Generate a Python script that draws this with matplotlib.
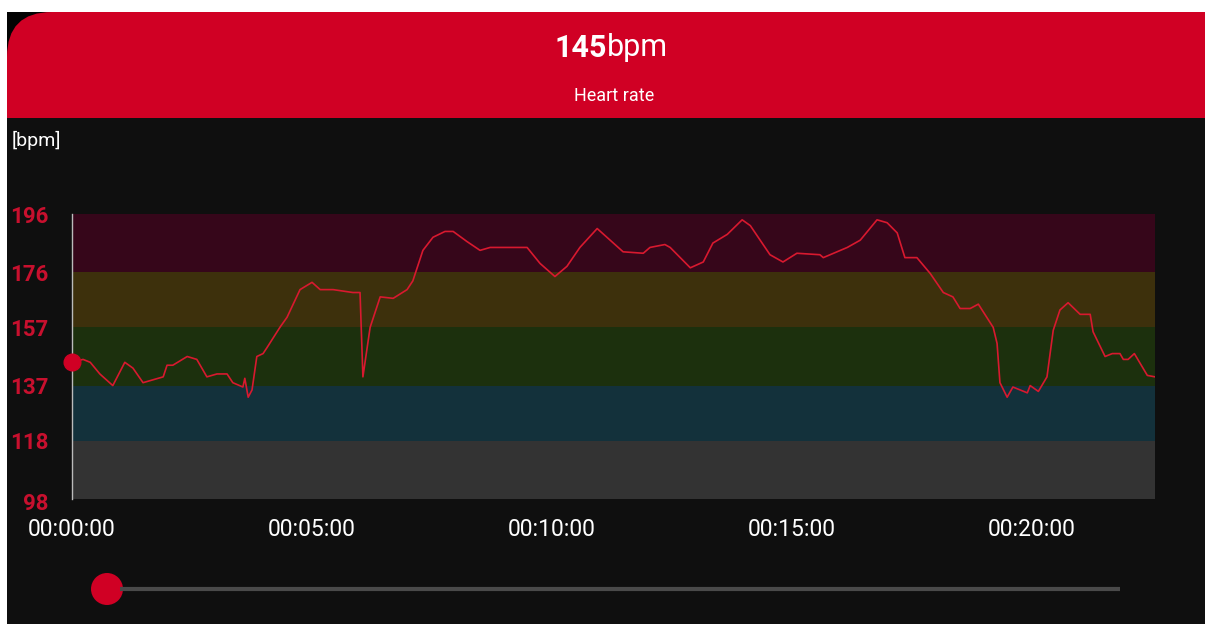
import matplotlib
matplotlib.use("Agg")
import matplotlib.pyplot as plt
from matplotlib.patches import FancyBboxPatch, Rectangle, Circle
from matplotlib.transforms import ScaledTranslation

# heart rate trace (minutes from start, bpm)
minutes = [0.0, 0.23, 0.38, 0.58, 0.85, 1.10, 1.27, 1.48, 1.69, 1.90, 1.98, 2.10,
           2.40, 2.60, 2.81, 3.02, 3.23, 3.35, 3.56, 3.60, 3.67, 3.75, 3.85, 3.98,
           4.06, 4.33, 4.48, 4.75, 5.00, 5.17, 5.44, 5.85, 6.00, 6.06, 6.21, 6.42,
           6.69, 6.98, 7.10, 7.31, 7.52, 7.77, 7.94, 8.23, 8.50, 8.71, 9.48, 9.75,
           10.06, 10.31, 10.58, 10.94, 11.21, 11.48, 11.90, 12.04, 12.35, 12.46,
           12.88, 13.15, 13.35, 13.65, 13.96, 14.13, 14.54, 14.81, 15.10, 15.58,
           15.65, 16.15, 16.42, 16.77, 16.98, 17.19, 17.35, 17.60, 17.88, 18.15,
           18.35, 18.50, 18.71, 18.88, 19.19, 19.27, 19.33, 19.48, 19.60, 19.90,
           19.96, 20.13, 20.31, 20.44, 20.58, 20.75, 21.00, 21.21, 21.27, 21.52,
           21.67, 21.83, 21.90, 22.00, 22.13, 22.40, 22.56]
bpm = [145, 146, 145, 141, 137, 145, 143, 138, 139, 140, 144, 144,
       147, 146, 140, 141, 141, 138, 136.5, 139.5, 133, 135.5, 147, 148,
       150, 157, 160.5, 170, 172.5, 170, 170, 169, 169, 140, 157, 167.5,
       167, 170, 173, 183.5, 188, 190, 190, 186.5, 183.5, 184.5, 184.5, 179,
       174.5, 178, 184.5, 191, 187, 183, 182.5, 184.5, 185.5, 184.5,
       177.5, 179.5, 186, 189, 194, 192, 182, 179.5, 182.5, 182,
       181, 184.5, 187, 194, 193, 189.5, 181, 181, 175.5, 169,
       167.5, 163.5, 163.5, 165, 157, 151.5, 138, 133, 136.5, 134.5,
       137, 135, 140, 156, 163, 165.5, 161.5, 161.5, 155.5, 147,
       148, 148, 146, 146, 148, 140.5, 140]

zone_edges = [98, 118, 137, 157, 176, 196]
zone_colors = ["#333333", "#13313b", "#1c300d", "#3d300c", "#36061a"]
time_ticks = [0, 5, 10, 15, 20]
time_labels = ["00:00:00", "00:05:00", "00:10:00", "00:15:00", "00:20:00"]
current_bpm = 145

W, H = 1205, 624
fig = plt.figure(figsize=(W / 100, H / 100), dpi=100, facecolor="white")

# background layer in pixel coordinates
bg = fig.add_axes([0, 0, 1, 1])
bg.set_xlim(0, W)
bg.set_ylim(H, 0)
bg.axis("off")
bg.add_patch(FancyBboxPatch((7, 12), W + 60, H + 60, boxstyle="round,pad=0,rounding_size=40",
                            fc="#0f0f0f", ec="none"))
bg.add_patch(Rectangle((7, 12), 60, 60, fc="#030303", ec="none"))
# red header, only the top-left corner shows rounded
bg.add_patch(FancyBboxPatch((7, 12), W + 60, 150, boxstyle="round,pad=0,rounding_size=45",
                            fc="#d00024", ec="none"))
bg.add_patch(Rectangle((7, 118), W, 100, fc="#0f0f0f", ec="none"))

bg.text(607, 48, str(current_bpm), ha="right", va="center", fontsize=22,
        fontweight="bold", color="white", family="Roboto")
bg.text(607, 48, "bpm", ha="left", va="center", fontsize=22, color="white", family="Roboto")
bg.text(614, 96, "Heart rate", ha="center", va="center", fontsize=13, color="white",
        family="Roboto")
bg.text(12, 140, "[bpm]", ha="left", va="center", fontsize=14, color="white", family="Roboto")

# slider at the bottom
bg.plot([120, 1120], [589, 589], color="#4a4a4a", lw=3, solid_capstyle="butt")
bg.add_patch(Circle((107, 589), 16, fc="#d00024", ec="none"))

# chart
x0, x1, y0, y1 = 72, 1155, 214, 499
ax = fig.add_axes([x0 / W, 1 - y1 / H, (x1 - x0) / W, (y1 - y0) / H])
ax.set_xlim(0, 22.56)
ax.set_ylim(98, 196)
ax.patch.set_alpha(0)
for lo, hi, c in zip(zone_edges[:-1], zone_edges[1:], zone_colors):
    ax.axhspan(lo, hi, color=c, lw=0)

ax.plot(minutes, bpm, color="#d8192f", lw=1.2)
ax.plot([0], [current_bpm], "o", color="#d00024", ms=12, clip_on=False, zorder=5)

for s in ["top", "right", "bottom"]:
    ax.spines[s].set_visible(False)
ax.spines["left"].set_color("#bbbbbb")
ax.spines["left"].set_linewidth(1)

ax.set_yticks(zone_edges)
ax.set_yticklabels([str(v) for v in zone_edges], color="#c8102e", fontsize=16,
                   fontweight="bold", family="Roboto")
ax.set_xticks(time_ticks)
ax.set_xticklabels(time_labels, color="white", fontsize=16.5, family="Roboto")
ax.tick_params(axis="y", length=0, pad=17)
ax.tick_params(axis="x", length=0, pad=14)

# the lowest label sits a little below the axis bottom
lbl = ax.get_yticklabels()[0]
lbl.set_transform(lbl.get_transform() + ScaledTranslation(0, -0.03, fig.dpi_scale_trans))

fig.savefig("out.png", dpi=100, facecolor="white")
